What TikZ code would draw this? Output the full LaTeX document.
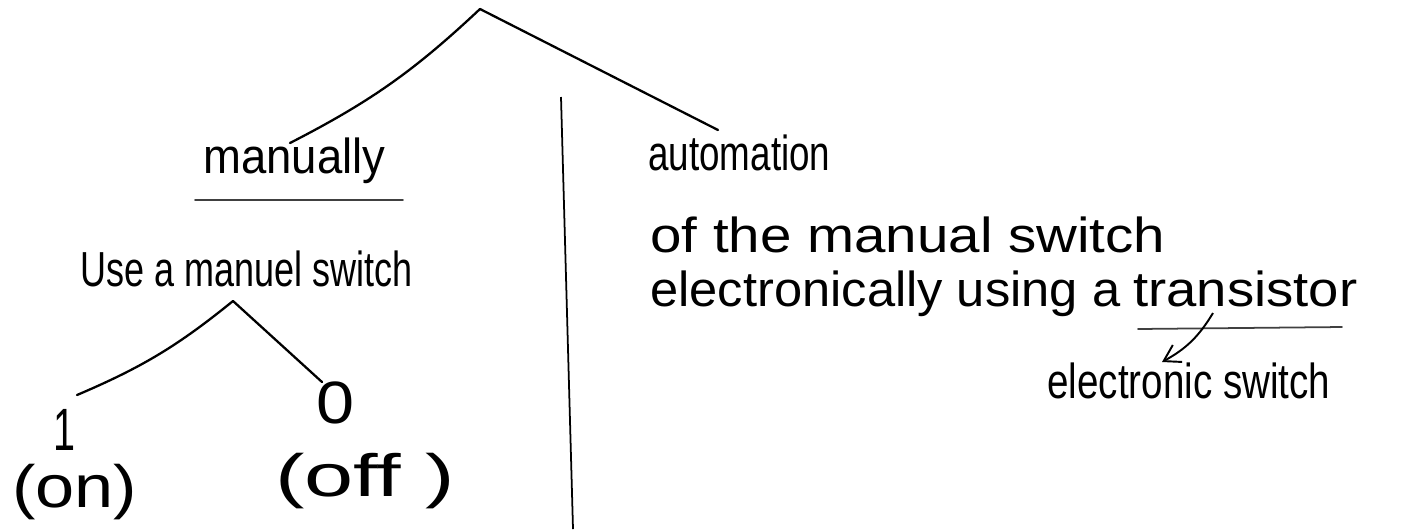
\documentclass[tikz,border=0pt]{standalone}
\usepackage{fontspec}
\setmainfont{Liberation Sans}
\usetikzlibrary{arrows.meta}
\newlength\pxu
\setlength\pxu{0.02cm}
\newcommand{\fitw}[2]{\resizebox{#1\pxu}{\height}{#2}}
\begin{document}
\begin{tikzpicture}[x=0.02cm,y=-0.02cm,
  txt/.style={anchor=base west,inner sep=0pt,font=\fontsize{28pt}{30pt}\selectfont},
  bigtxt/.style={txt,font=\fontsize{34pt}{36pt}\selectfont},
  branch/.style={line width=1.3pt,line cap=round},
  uline/.style={line width=1pt,line cap=round,black!75}]
\useasboundingbox (0,0) rectangle (1413,529);
% texts
\node[txt] (manually) at (203,173) {\fitw{182}{manually}};
\node[txt] (use) at (80,286) {\fitw{332}{Use a manuel switch}};
\node[bigtxt] (one) at (53,450) {\fitw{22}{1}};
\node[bigtxt] (on) at (12,507) {\fitw{125}{(on)}};
\node[bigtxt] (zero) at (316,423) {\fitw{38}{0}};
\node[bigtxt] (off) at (275,496) {\fitw{180}{(off )}};
\node[txt] (auto) at (648,170) {\fitw{182}{automation}};
\node[txt] (ofthe) at (650,252) {\fitw{515}{of the manual switch}};
\node[txt] (elec) at (650,306) {\fitw{470}{electronically using a}};
\node[txt] (trans) at (1133,306) {\fitw{224}{transistor}};
\node[txt] (eswitch) at (1047,398) {\fitw{283}{electronic switch}};
% coordinates
\coordinate (top) at (480,9);
\coordinate (manTop) at (290,143);
\coordinate (autoTop) at (718,130);
\coordinate (subTop) at (233,301);
\coordinate (oneTop) at (77,395);
\coordinate (zeroTop) at (322,382);
\coordinate (div1) at (561,97);
\coordinate (div2) at (573,529);
\coordinate (mu1) at (195,200);
\coordinate (mu2) at (403,200);
\coordinate (tu1) at (1138,329);
\coordinate (tu2) at (1342,327);
\coordinate (arrS) at (1213,313);
\coordinate (arrE) at (1162,362);
% connectors
\draw[branch] (top) to[bend left=8] (manTop);
\draw[branch] (top) -- (autoTop);
\draw[branch] (subTop) to[bend left=8] (oneTop);
\draw[branch] (subTop) -- (zeroTop);
\draw[line width=1pt] (div1) -- (div2);
\draw[uline] (mu1) -- (mu2);
\draw[uline] (tu1) -- (tu2);
\draw[line width=1.1pt,-{Straight Barb[length=9pt,width=11pt]}] (arrS) to[bend left=15] (arrE);
\end{tikzpicture}
\end{document}
